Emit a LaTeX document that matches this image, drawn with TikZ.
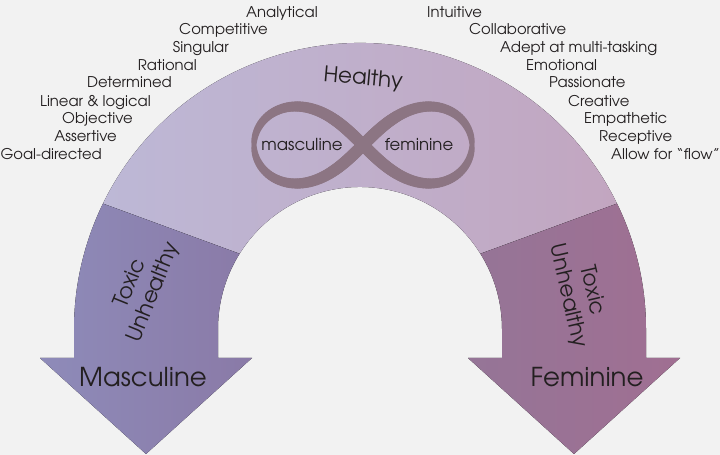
\documentclass[tikz,border=0pt]{standalone}
\usepackage{fontspec}
\setmainfont{TeX Gyre Adventor}
\usetikzlibrary{calc}
\definecolor{bg}{HTML}{F2F2F2}
\definecolor{hl}{HTML}{BDB8D6}
\definecolor{hr}{HTML}{C2A6C0}
\definecolor{ml}{HTML}{8E8BB9}
\definecolor{mr}{HTML}{8A7AA7}
\definecolor{fl}{HTML}{957597}
\definecolor{fr}{HTML}{A06F92}
\definecolor{ribbon}{HTML}{8C7583}
\definecolor{ink}{HTML}{231F20}
\tikzset{
  trait/.style={font=\fontsize{14.8}{17}\selectfont, text=ink, inner sep=0pt},
  ltrait/.style={trait, anchor=base east},
  rtrait/.style={trait, anchor=base west},
  big/.style={font=\fontsize{26}{30}\selectfont, text=ink, inner sep=0pt},
  mid/.style={font=\fontsize{21.5}{25}\selectfont, text=ink, inner sep=0pt, align=center},
  small/.style={font=\fontsize{16.5}{19}\selectfont, text=ink, inner sep=0pt},
  ribbonseg/.style={ribbon, line cap=round},
  declare function={
    lx(\t)=109*cos(\t)/(1+(sin(\t))^2);
    ly(\t)=109*sin(\t)*cos(\t)/(1+(sin(\t))^2);
  }
}
\begin{document}
\begin{tikzpicture}[x=1pt,y=1pt]
\fill[bg] (0,0) rectangle (720,455);
\useasboundingbox (0,0) rectangle (720,455);
\coordinate (C) at (360,126);
% healthy band
\fill[left color=hl, right color=hr]
  ($(C)+(154:286)$) arc[start angle=154,end angle=26,radius=286]
  -- ($(C)+(32:142)$) arc[start angle=32,end angle=148,radius=142] -- cycle;
% masculine arrow
\fill[left color=ml, right color=mr]
  ($(C)+(154:286)$) arc[start angle=154,end angle=180,radius=286]
  -- (74,97) -- (40,97) -- (146,1) -- (252,97) -- (218,97) -- (218,126)
  arc[start angle=180,end angle=148,radius=142] -- cycle;
% feminine arrow
\fill[left color=fl, right color=fr]
  ($(C)+(26:286)$) arc[start angle=26,end angle=0,radius=286]
  -- (646,97) -- (680,97) -- (574,1) -- (468,97) -- (502,97) -- (502,126)
  arc[start angle=0,end angle=32,radius=142] -- cycle;
% infinity ribbon (variable width)
\coordinate (I) at (363,310);
\foreach \t in {0,1.5,...,358.5}{
  \pgfmathsetmacro\lw{4+8*sqrt(abs(sin(\t+0.75)))}
  \pgfmathsetmacro\tn{\t+1.5}
  \draw[ribbonseg, line width=\lw pt]
    ($(I)+({lx(\t)},{ly(\t)})$) -- ($(I)+({lx(\tn)},{ly(\tn)})$);
}
% labels
\node[mid, rotate=-5] (healthy) at (363,376) {Healthy};
\node[small] (mascs) at (302,310) {masculine};
\node[small] (fems) at (419,310) {feminine};
\node[big] (masc) at (143,78) {Masculine};
\node[big] (fem) at (587,78) {Feminine};
\node[mid, rotate=68] (ltox) at (142,167) {Toxic\\Unhealthy};
\node[mid, rotate=-77] (rtox) at (580,162) {Toxic\\Unhealthy};
% left traits
\node[ltrait] (t1) at (318,437) {Analytical};
\node[ltrait] (t2) at (268,420) {Competitive};
\node[ltrait] (t3) at (229,402) {Singular};
\node[ltrait] (t4) at (197,384) {Rational};
\node[ltrait] (t5) at (172,367) {Determined};
\node[ltrait] (t6) at (151,348) {Linear \& logical};
\node[ltrait] (t7) at (133,331) {Objective};
\node[ltrait] (t8) at (117,313) {Assertive};
\node[ltrait] (t9) at (102,295) {Goal-directed};
% right traits
\node[rtrait] (f1) at (427,437) {Intuitive};
\node[rtrait] (f2) at (469,420) {Collaborative};
\node[rtrait] (f3) at (500,402) {Adept at multi-tasking};
\node[rtrait] (f4) at (526,384) {Emotional};
\node[rtrait] (f5) at (549,367) {Passionate};
\node[rtrait] (f6) at (568,348) {Creative};
\node[rtrait] (f7) at (584,331) {Empathetic};
\node[rtrait] (f8) at (599,313) {Receptive};
\node[rtrait] (f9) at (611,295) {Allow for “flow”};
\end{tikzpicture}
\end{document}
